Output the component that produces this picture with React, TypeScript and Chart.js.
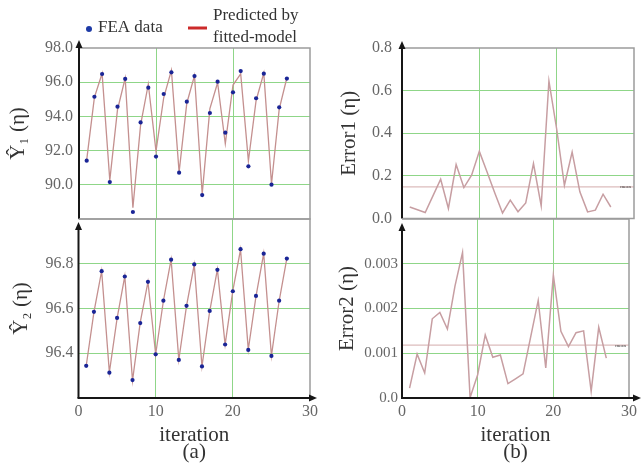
import React, { useEffect, useRef } from 'react';
import { Chart, registerables } from 'chart.js';

Chart.register(...registerables);

// ---------- data ----------
const ITERATIONS = [1, 2, 3, 4, 5, 6, 7, 8, 9, 10, 11, 12, 13, 14, 15, 16, 17, 18, 19, 20, 21, 22, 23, 24, 25, 26, 27];
const FEA_Y1 = [91.41, 95.15, 96.48, 90.16, 94.57, 96.19, 88.41, 93.65, 95.68, 91.65, 95.31, 96.58, 90.71, 94.86, 96.36, 89.40, 94.20, 96.03, 93.05, 95.41, 96.65, 91.08, 95.06, 96.50, 90.01, 94.53, 96.21];
const PRED_Y1 = [91.46, 95.11, 96.51, 90.27, 94.39, 96.24, 88.66, 93.50, 95.88, 91.97, 95.09, 96.70, 90.74, 94.77, 96.39, 89.47, 94.46, 95.97, 92.40, 95.83, 96.49, 91.39, 94.93, 96.53, 90.05, 94.42, 96.26];
const FEA_Y2 = [96.344, 96.585, 96.767, 96.313, 96.558, 96.743, 96.280, 96.535, 96.719, 96.395, 96.635, 96.818, 96.370, 96.612, 96.797, 96.341, 96.589, 96.773, 96.439, 96.677, 96.865, 96.415, 96.656, 96.845, 96.388, 96.635, 96.823];
const PRED_Y2 = [96.3442, 96.5840, 96.7676, 96.3148, 96.5561, 96.7445, 96.2775, 96.5383, 96.7190, 96.3955, 96.6336, 96.8189, 96.3710, 96.6117, 96.7966, 96.3415, 96.5876, 96.7752, 96.4383, 96.6797, 96.8635, 96.4161, 96.6545, 96.8465, 96.3882, 96.6334, 96.8239];
const ERROR1 = [0.054, 0.041, 0.028, 0.106, 0.184, 0.047, 0.253, 0.145, 0.203, 0.315, 0.218, 0.120, 0.026, 0.086, 0.032, 0.073, 0.258, 0.059, 0.645, 0.420, 0.156, 0.312, 0.125, 0.031, 0.039, 0.114, 0.054];
const ERROR2 = [0.00022, 0.00098, 0.00056, 0.00177, 0.00191, 0.00154, 0.00250, 0.00325, 0.00001, 0.00052, 0.00141, 0.00091, 0.00096, 0.00032, 0.00043, 0.00054, 0.00136, 0.00218, 0.00067, 0.00275, 0.00149, 0.00115, 0.00146, 0.00150, 0.00015, 0.00158, 0.00089];
const MEAN1 = 0.148;
const MEAN2 = 0.00118;
const X_RANGE = [0, 30];
const X_STEP = 10;
const Y1_RANGE = [88, 98];
const Y2_RANGE = [96.2, 97.0];
const E1_RANGE = [0, 0.8];
const E2_RANGE = [0, 0.004];
const Y1_STEP = 2;
const Y2_STEP = 0.2;
const E1_STEP = 0.2;
const E2_STEP = 0.001;
const LEGEND_FEA = 'FEA data';
const LEGEND_PRED = ['Predicted by', 'fitted-model'];
const MEAN_LABEL = 'mean';

// ---------- styling ----------
const W = 641;
const H = 475;
const SERIF = '"Liberation Serif", "Times New Roman", serif';
const GREEN = '#8fd688';
const TICK_COLOR = '#666666';
const TEXT_COLOR = '#333333';
const PRED_COLOR = '#c4908f';
const ERR_COLOR = '#c79ea2';
const MEAN_COLOR = '#dcbcbc';
const DOT_COLOR = '#1a2596';
const CLEAR = 'rgba(0,0,0,0)';

type Box = { l: number; t: number; r: number; b: number };

type PanelSpec = {
  box: Box;
  padLeft: number;
  yRange: number[];
  yStep: number;
  yLabel: (v: number) => string;
  yTitle: string;
  yTitlePad: number;
  yTickPad: number;
  tickSize: number;
  xTitle: string[] | null;
  datasets: any[];
  arrowTipY: number;
  arrowTipX: number;
  legend?: boolean;
  mean?: number;
};

function pts(ys: number[]) {
  return ITERATIONS.map((x, i) => ({ x, y: ys[i] }));
}

function meanLine(m: number) {
  return [{ x: X_RANGE[0], y: m }, { x: X_RANGE[1], y: m }];
}

function framePlugin(p: PanelSpec) {
  return {
    id: 'frame',
    afterDraw(chart: any) {
      const { ctx, chartArea } = chart;
      const { left, top, right, bottom } = chartArea;
      const bottomAxis = p.xTitle !== null;
      ctx.save();
      // grey frame
      ctx.strokeStyle = '#9c9c9c';
      ctx.lineWidth = 1.5;
      ctx.beginPath();
      ctx.moveTo(left, top);
      ctx.lineTo(right, top);
      ctx.lineTo(right, bottom);
      if (!bottomAxis) ctx.lineTo(left, bottom);
      ctx.stroke();
      // black left axis with arrow
      ctx.strokeStyle = '#161616';
      ctx.fillStyle = '#161616';
      ctx.lineWidth = 2;
      ctx.beginPath();
      ctx.moveTo(left, bottom);
      ctx.lineTo(left, p.arrowTipY + 4);
      ctx.stroke();
      ctx.beginPath();
      ctx.moveTo(left, p.arrowTipY);
      ctx.lineTo(left - 3.5, p.arrowTipY + 8);
      ctx.lineTo(left + 3.5, p.arrowTipY + 8);
      ctx.closePath();
      ctx.fill();
      if (bottomAxis) {
        ctx.beginPath();
        ctx.moveTo(left - 1, bottom);
        ctx.lineTo(p.arrowTipX - 4, bottom);
        ctx.stroke();
        ctx.beginPath();
        ctx.moveTo(p.arrowTipX, bottom);
        ctx.lineTo(p.arrowTipX - 8, bottom - 3.5);
        ctx.lineTo(p.arrowTipX - 8, bottom + 3.5);
        ctx.closePath();
        ctx.fill();
      }
      // mean label
      if (p.mean !== undefined) {
        const yPix = chart.scales.y.getPixelForValue(p.mean);
        ctx.font = '5px ' + SERIF;
        ctx.fillStyle = '#333';
        ctx.textAlign = 'right';
        ctx.textBaseline = 'middle';
        ctx.fillText(MEAN_LABEL, right - 3, yPix);
      }
      // legend
      if (p.legend) {
        ctx.fillStyle = '#1d3aa6';
        ctx.beginPath();
        ctx.arc(89, 29, 3, 0, Math.PI * 2);
        ctx.fill();
        ctx.font = '17px ' + SERIF;
        ctx.fillStyle = TEXT_COLOR;
        ctx.textAlign = 'left';
        ctx.textBaseline = 'middle';
        ctx.fillText(LEGEND_FEA, 98, 28);
        ctx.strokeStyle = '#cc2a2a';
        ctx.lineWidth = 3;
        ctx.beginPath();
        ctx.moveTo(188, 28);
        ctx.lineTo(207, 28);
        ctx.stroke();
        ctx.fillStyle = TEXT_COLOR;
        ctx.fillText(LEGEND_PRED[0], 213, 16);
        ctx.fillText(LEGEND_PRED[1], 213, 38);
      }
      ctx.restore();
    },
  };
}

function buildConfig(p: PanelSpec): any {
  const isBottom = p.xTitle !== null;
  const yWidth = p.box.l - p.padLeft;
  const [ymin, ymax] = p.yRange;
  const eps = (ymax - ymin) * 1e-6;
  return {
    type: 'scatter',
    data: { datasets: p.datasets },
    options: {
      responsive: false,
      animation: false,
      devicePixelRatio: 1,
      layout: {
        autoPadding: false,
        padding: { left: p.padLeft, top: p.box.t, right: W - p.box.r, bottom: isBottom ? 0 : H - p.box.b },
      },
      plugins: { legend: { display: false }, tooltip: { enabled: false } },
      scales: {
        x: {
          type: 'linear',
          min: X_RANGE[0],
          max: X_RANGE[1],
          ticks: {
            stepSize: X_STEP,
            display: isBottom,
            padding: 4,
            color: TICK_COLOR,
            font: { family: SERIF, size: 16 },
          },
          grid: {
            drawTicks: false,
            lineWidth: 1,
            color: (c: any) => {
              const v = c.tick ? c.tick.value : 0;
              return v > X_RANGE[0] && v < X_RANGE[1] ? GREEN : CLEAR;
            },
          },
          border: { display: false },
          title: isBottom
            ? {
                display: true,
                text: p.xTitle,
                color: TEXT_COLOR,
                font: { family: SERIF, size: 21, lineHeight: '17px' },
                padding: { top: 0, bottom: 14.5 },
              }
            : { display: false },
          afterFit: (s: any) => {
            s.height = isBottom ? H - p.box.b : 0;
          },
        },
        y: {
          type: 'linear',
          min: ymin,
          max: ymax,
          ticks: {
            stepSize: p.yStep,
            padding: p.yTickPad,
            color: TICK_COLOR,
            font: { family: SERIF, size: p.tickSize },
            callback: (v: any) => p.yLabel(Number(v)),
          },
          grid: {
            drawTicks: false,
            lineWidth: 1,
            color: (c: any) => {
              const v = c.tick ? c.tick.value : ymin;
              return v > ymin + eps && v < ymax - eps ? GREEN : CLEAR;
            },
          },
          border: { display: false },
          title: {
            display: true,
            text: p.yTitle,
            color: TEXT_COLOR,
            font: { family: SERIF, size: 21, lineHeight: 1 },
            padding: { top: p.yTitlePad, bottom: 0 },
          },
          afterFit: (s: any) => {
            s.width = yWidth;
          },
        },
      },
    },
    plugins: [framePlugin(p)],
  };
}

function near(a: number, b: number, tol: number) {
  return Math.abs(a - b) < tol;
}

function panels(): PanelSpec[] {
  const feaDs = (ys: number[]) => ({
    label: LEGEND_FEA,
    data: pts(ys),
    showLine: false,
    pointRadius: 2.1,
    pointBorderWidth: 0,
    pointBackgroundColor: DOT_COLOR,
  });
  const predDs = (ys: number[]) => ({
    label: LEGEND_PRED.join(' '),
    data: pts(ys),
    showLine: true,
    borderColor: PRED_COLOR,
    borderWidth: 1.3,
    pointRadius: 0,
  });
  const errDs = (ys: number[]) => ({
    data: pts(ys),
    showLine: true,
    borderColor: ERR_COLOR,
    borderWidth: 1.5,
    pointRadius: 0,
  });
  const meanDs = (m: number) => ({
    data: meanLine(m),
    showLine: true,
    borderColor: MEAN_COLOR,
    borderWidth: 1.2,
    pointRadius: 0,
  });
  return [
    {
      box: { l: 79, t: 48, r: 310, b: 219 },
      padLeft: 0,
      yRange: Y1_RANGE,
      yStep: Y1_STEP,
      yLabel: (v) => (near(v, Y1_RANGE[0], 1e-6) ? '' : v.toFixed(1)),
      yTitle: 'Ŷ₁ (η)',
      yTitlePad: 7.5,
      yTickPad: 6,
      tickSize: 16,
      xTitle: null,
      datasets: [feaDs(FEA_Y1), predDs(PRED_Y1)],
      arrowTipY: 40,
      arrowTipX: 0,
      legend: true,
    },
    {
      box: { l: 78.5, t: 219, r: 310, b: 398 },
      padLeft: 0,
      yRange: Y2_RANGE,
      yStep: Y2_STEP,
      yLabel: (v) => (near(v, Y2_RANGE[0], 1e-6) || near(v, Y2_RANGE[1], 1e-6) ? '' : v.toFixed(1)),
      yTitle: 'Ŷ₂ (η)',
      yTitlePad: 11,
      yTickPad: 5,
      tickSize: 16,
      xTitle: ['iteration', '(a)'],
      datasets: [feaDs(FEA_Y2), predDs(PRED_Y2)],
      arrowTipY: 222,
      arrowTipX: 317,
    },
    {
      box: { l: 402, t: 48, r: 634, b: 218.5 },
      padLeft: 330,
      yRange: E1_RANGE,
      yStep: E1_STEP,
      yLabel: (v) => v.toFixed(1),
      yTitle: 'Error1 (η)',
      yTitlePad: 8.5,
      yTickPad: 10,
      tickSize: 16,
      xTitle: null,
      datasets: [errDs(ERROR1), meanDs(MEAN1)],
      arrowTipY: 41,
      arrowTipX: 0,
      mean: MEAN1,
    },
    {
      box: { l: 402, t: 219, r: 633, b: 398 },
      padLeft: 330,
      yRange: E2_RANGE,
      yStep: E2_STEP,
      yLabel: (v) => (near(v, 0, 1e-9) ? '0.0' : near(v, E2_RANGE[1], 1e-9) ? '' : v.toFixed(3)),
      yTitle: 'Error2 (η)',
      yTitlePad: 6.5,
      yTickPad: 4,
      tickSize: 15,
      xTitle: ['iteration', '(b)'],
      datasets: [errDs(ERROR2), meanDs(MEAN2)],
      arrowTipY: 223,
      arrowTipX: 641,
      mean: MEAN2,
    },
  ];
}

export default function App() {
  const canvases = useRef<(HTMLCanvasElement | null)[]>([]);

  useEffect(() => {
    const specs = panels();
    const charts = specs.map((p, i) => new Chart(canvases.current[i] as HTMLCanvasElement, buildConfig(p)));
    return () => charts.forEach((c) => c.destroy());
  }, []);

  return (
    <div style={{ position: 'absolute', left: 0, top: 0, width: W, height: H, background: '#ffffff', overflow: 'hidden' }}>
      {[0, 1, 2, 3].map((i) => (
        <canvas
          key={i}
          ref={(el) => {
            canvases.current[i] = el;
          }}
          width={W}
          height={H}
          style={{ position: 'absolute', left: 0, top: 0, width: W, height: H }}
        />
      ))}
    </div>
  );
}
